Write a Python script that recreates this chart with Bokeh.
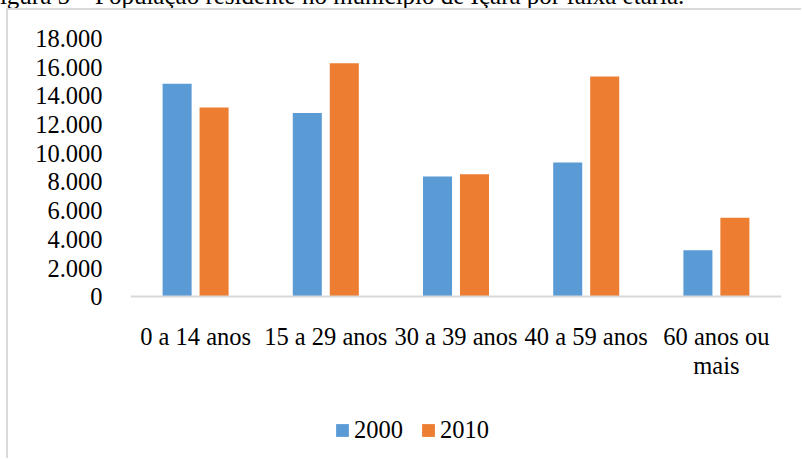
from bokeh.plotting import figure
from bokeh.layouts import column
from bokeh.models import (ColumnDataSource, FactorRange, Range1d, FixedTicker, Legend, LegendItem,
                          CategoricalAxis, Div)
from bokeh.transform import dodge
from bokeh.embed import file_html
from bokeh.resources import INLINE

caption = "Figura 5 – População residente no município de Içara por faixa etária."
# category labels, split in two lines as in the chart ("60 anos ou" / "mais")
category_line1 = ["0 a 14 anos", "15 a 29 anos", "30 a 39 anos", "40 a 59 anos", "60 anos ou"]
category_line2 = [" ", "  ", "   ", "    ", "mais"]
categories = [(a + " " + b.strip()).strip() for a, b in zip(category_line1, category_line2)]
values_2000 = [14850, 12800, 8380, 9360, 3240]
values_2010 = [13190, 16270, 8540, 15360, 5510]
series_names = ["2000", "2010"]
y_ticks = [0, 2000, 4000, 6000, 8000, 10000, 12000, 14000, 16000, 18000]
y_tick_labels = ["0", "2.000", "4.000", "6.000", "8.000", "10.000", "12.000", "14.000", "16.000", "18.000"]
y_max = 18000

FONT = "Liberation Serif"
FS = "24.5px"
BLUE = "#5B9BD5"
ORANGE = "#ED7D31"
GRAY = "#D9D9D9"

# layout (pixels): value axis spans 257 px; frame extends below zero to hold labels + legend
VALUE_PX = 257
FRAME_PX = 412
y_min = -(FRAME_PX - VALUE_PX) / VALUE_PX * y_max

source = ColumnDataSource(data=dict(cat=category_line1, name=categories,
                                    v2000=values_2000, v2010=values_2010))

p = figure(
    x_range=FactorRange(*category_line1, range_padding=0),
    y_range=Range1d(y_min, y_max),
    frame_width=649, frame_height=FRAME_PX,
    min_border_left=122, min_border_right=22, min_border_top=28, min_border_bottom=8,
    output_backend="svg", toolbar_location=None, tools="",
)
p.extra_x_ranges = {"line2": FactorRange(*category_line2, range_padding=0)}
p.styles = {"margin-left": "6px",
            "border-left": f"2px solid {GRAY}", "border-top": f"2px solid {GRAY}"}
p.outline_line_color = None
p.xgrid.grid_line_color = None
p.ygrid.grid_line_color = None
p.background_fill_color = "white"
p.border_fill_color = "white"

r1 = p.vbar(x=dodge("cat", -0.142, range=p.x_range), top="v2000", width=0.223, source=source,
            fill_color=BLUE, line_color=None)
r2 = p.vbar(x=dodge("cat", 0.142, range=p.x_range), top="v2010", width=0.223, source=source,
            fill_color=ORANGE, line_color=None)

# x axis at value 0 (first line of labels)
xa = p.xaxis[0]
xa.fixed_location = 0
xa.axis_line_color = GRAY
xa.axis_line_width = 2
xa.major_tick_line_color = None
xa.minor_tick_line_color = None
xa.major_label_standoff = 20
xa.major_label_text_font = FONT
xa.major_label_text_font_size = FS
xa.major_label_text_color = "black"

# second line of the category labels
xa2 = CategoricalAxis(
    x_range_name="line2", fixed_location=0,
    axis_line_color=None, major_tick_line_color=None, minor_tick_line_color=None,
    major_label_standoff=49, major_label_text_font=FONT, major_label_text_font_size=FS,
    major_label_text_color="black",
)
p.add_layout(xa2, "below")

# y axis
ya = p.yaxis[0]
ya.ticker = FixedTicker(ticks=y_ticks)
ya.major_label_overrides = {t: l for t, l in zip(y_ticks, y_tick_labels)}
ya.axis_line_color = None
ya.major_tick_line_color = None
ya.minor_tick_line_color = None
ya.major_label_standoff = 22
ya.major_label_text_font = FONT
ya.major_label_text_font_size = FS
ya.major_label_text_color = "black"

legend = Legend(
    items=[LegendItem(label=series_names[0], renderers=[r1]),
           LegendItem(label=series_names[1], renderers=[r2])],
    orientation="horizontal",
    location=(204, 8),
    glyph_width=16, glyph_height=16,
    label_standoff=4, spacing=17,
    padding=0, margin=0,
    border_line_color=None, background_fill_alpha=0,
    label_text_font=FONT, label_text_font_size=FS, label_text_color="black",
)
p.add_layout(legend, "center")

# caption of the document, cut off by the top edge of the screenshot (as in the reference)
cap = Div(
    text=('<div style="position:relative;top:-17px;left:-14px;white-space:nowrap;'
          'font-family:\'Liberation Serif\';font-size:25px;line-height:25px;color:black;">'
          + caption + '</div>'),
    width=802, height=8, margin=0, styles={"overflow": "hidden"},
)

layout = column(cap, p, spacing=0)
open("out.html", "w").write(file_html(layout, INLINE))
